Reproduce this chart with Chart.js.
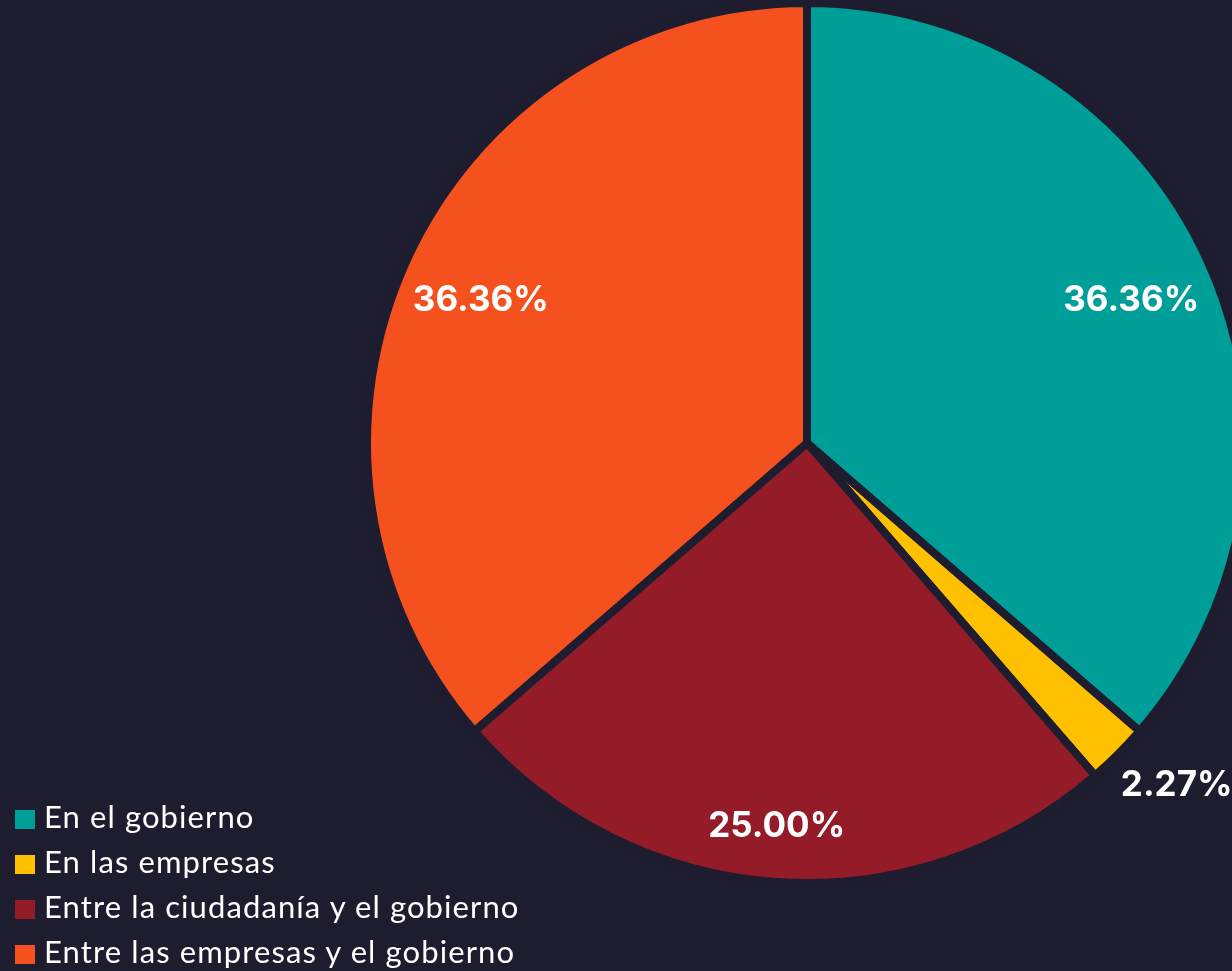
<!DOCTYPE html>
<html>
<head>
<meta charset="utf-8">
<script src="https://cdn.jsdelivr.net/npm/chart.js@4.4.1/dist/chart.umd.min.js"></script>
<style>
  html, body { margin: 0; padding: 0; background: #1e1c2f; overflow: hidden; }
  #wrap { position: relative; width: 1232px; height: 971px; }
  #legend { position: absolute; left: 15px; top: 794px; font-family: Lato, sans-serif; font-size: 31px; letter-spacing: 1.1px; color: #fff; }
  #legend div { height: 45px; line-height: 45px; white-space: nowrap; }
  #legend span { display: inline-block; width: 20px; height: 19px; margin-right: 9px; vertical-align: -1px; }
</style>
</head>
<body>
<div id="wrap">
  <canvas id="myChart" width="1232" height="971"></canvas>
  <div id="legend"></div>
</div>
<script>
const labels = ['En el gobierno', 'En las empresas', 'Entre la ciudadanía y el gobierno', 'Entre las empresas y el gobierno'];
const values = [16, 1, 11, 16];
const colors = ['#009e98', '#ffc000', '#931c28', '#f4511e'];

const bg = '#1e1c2f';

// percentage labels drawn on / next to each slice
const pieLabels = {
    id: 'pieLabels',
    afterDatasetsDraw(chart, args, opts) {
        const ctx = chart.ctx;
        const meta = chart.getDatasetMeta(0);
        const total = values.reduce((a, b) => a + b, 0);
        ctx.save();
        ctx.font = 'bold 35px Inter, sans-serif';
        ctx.fillStyle = '#fff';
        ctx.textAlign = 'center';
        ctx.textBaseline = 'middle';
        meta.data.forEach((arc, i) => {
            const mid = (arc.startAngle + arc.endAngle) / 2;
            const r = arc.outerRadius * opts.dist[i];
            const x = arc.x + Math.cos(mid) * r + opts.nudge[i][0];
            const y = arc.y + Math.sin(mid) * r + opts.nudge[i][1];
            ctx.fillText((values[i] / total * 100).toFixed(2) + '%', x, y);
        });
        ctx.restore();
    }
};

const ctx = document.getElementById('myChart').getContext('2d');
const myChart = new Chart(ctx, {
    type: 'pie',
    data: {
        labels: labels,
        datasets: [{
            data: values,
            backgroundColor: colors,
            borderColor: bg,
            borderWidth: 8,
            radius: 440,
            clip: false
        }]
    },
    options: {
        responsive: false,
        animation: false,
        layout: { padding: { left: 382, bottom: 85 } },
        plugins: {
            legend: { display: false },
            tooltip: { enabled: false },
            pieLabels: {
                dist: [0.81, 1.14, 0.87, 0.815],
                nudge: [[0, 6], [15, -12], [-3, 2], [0, 6]]
            }
        }
    },
    plugins: [pieLabels]
});

const legend = document.getElementById('legend');
labels.forEach((l, i) => {
    const row = document.createElement('div');
    row.innerHTML = '<span style="background:' + colors[i] + '"></span>' + l;
    legend.appendChild(row);
});
</script>
</body>
</html>
